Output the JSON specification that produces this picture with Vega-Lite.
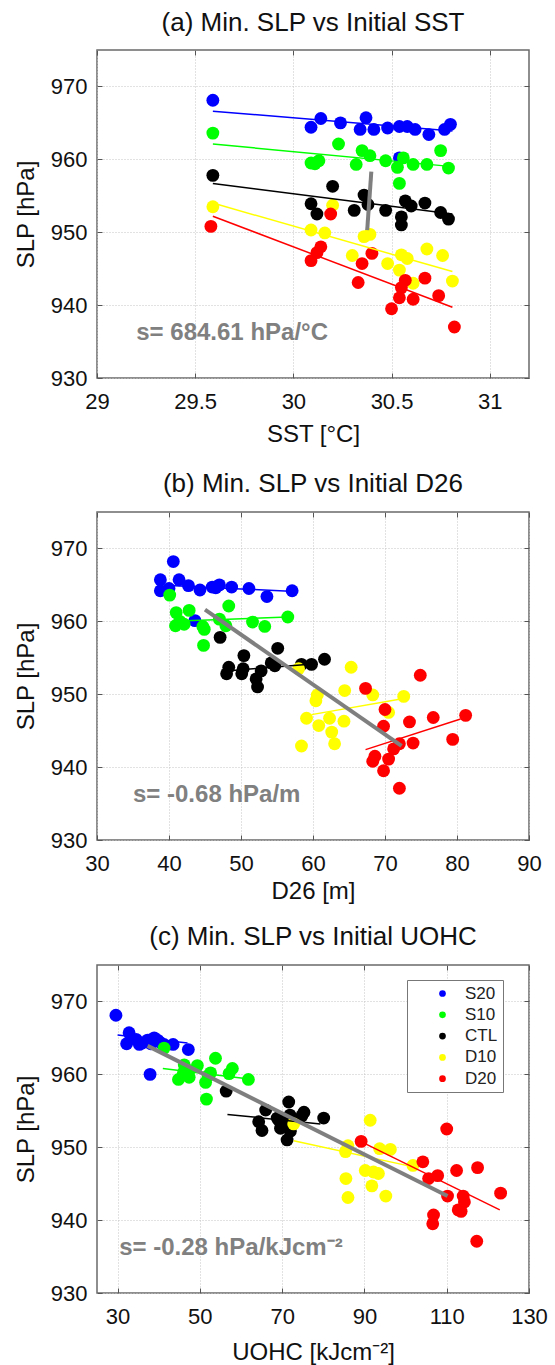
{
  "$schema": "https://vega.github.io/schema/vega-lite/v6.json",
  "background": "white",
  "padding": {"left": 14, "top": 9, "right": 6, "bottom": 0},
  "spacing": 18,
  "datasets": {
    "a_pts": [
      {"sst": 29.59, "slp": 968.1, "exp": "S20"}, {"sst": 30.09, "slp": 964.4, "exp": "S20"}, {"sst": 30.14, "slp": 965.6, "exp": "S20"},
      {"sst": 30.24, "slp": 965.0, "exp": "S20"}, {"sst": 30.37, "slp": 965.7, "exp": "S20"}, {"sst": 30.34, "slp": 964.1, "exp": "S20"},
      {"sst": 30.41, "slp": 964.1, "exp": "S20"}, {"sst": 30.48, "slp": 964.3, "exp": "S20"}, {"sst": 30.54, "slp": 964.5, "exp": "S20"},
      {"sst": 30.58, "slp": 964.5, "exp": "S20"}, {"sst": 30.62, "slp": 964.1, "exp": "S20"}, {"sst": 30.69, "slp": 963.4, "exp": "S20"},
      {"sst": 30.77, "slp": 964.1, "exp": "S20"}, {"sst": 30.80, "slp": 964.8, "exp": "S20"}, {"sst": 30.54, "slp": 960.2, "exp": "S20"},
      {"sst": 29.59, "slp": 963.6, "exp": "S10"}, {"sst": 30.23, "slp": 962.1, "exp": "S10"}, {"sst": 30.09, "slp": 959.5, "exp": "S10"},
      {"sst": 30.13, "slp": 959.8, "exp": "S10"}, {"sst": 30.11, "slp": 959.4, "exp": "S10"}, {"sst": 30.32, "slp": 959.3, "exp": "S10"},
      {"sst": 30.35, "slp": 961.2, "exp": "S10"}, {"sst": 30.39, "slp": 960.5, "exp": "S10"}, {"sst": 30.47, "slp": 959.8, "exp": "S10"},
      {"sst": 30.53, "slp": 958.9, "exp": "S10"}, {"sst": 30.56, "slp": 960.2, "exp": "S10"}, {"sst": 30.61, "slp": 959.3, "exp": "S10"},
      {"sst": 30.68, "slp": 959.3, "exp": "S10"}, {"sst": 30.75, "slp": 961.2, "exp": "S10"}, {"sst": 30.79, "slp": 958.8, "exp": "S10"},
      {"sst": 30.54, "slp": 956.7, "exp": "S10"},
      {"sst": 29.59, "slp": 957.8, "exp": "CTL"}, {"sst": 30.20, "slp": 956.3, "exp": "CTL"}, {"sst": 30.09, "slp": 953.9, "exp": "CTL"},
      {"sst": 30.12, "slp": 952.5, "exp": "CTL"}, {"sst": 30.31, "slp": 953.0, "exp": "CTL"}, {"sst": 30.36, "slp": 955.1, "exp": "CTL"},
      {"sst": 30.47, "slp": 953.0, "exp": "CTL"}, {"sst": 30.55, "slp": 952.1, "exp": "CTL"}, {"sst": 30.55, "slp": 951.0, "exp": "CTL"},
      {"sst": 30.57, "slp": 954.3, "exp": "CTL"}, {"sst": 30.60, "slp": 953.6, "exp": "CTL"}, {"sst": 30.67, "slp": 954.0, "exp": "CTL"},
      {"sst": 30.75, "slp": 952.7, "exp": "CTL"}, {"sst": 30.79, "slp": 951.8, "exp": "CTL"}, {"sst": 30.38, "slp": 953.8, "exp": "CTL"},
      {"sst": 29.59, "slp": 953.5, "exp": "D10"}, {"sst": 30.20, "slp": 953.7, "exp": "D10"}, {"sst": 30.09, "slp": 950.3, "exp": "D10"},
      {"sst": 30.16, "slp": 949.9, "exp": "D10"}, {"sst": 30.30, "slp": 946.8, "exp": "D10"}, {"sst": 30.36, "slp": 949.4, "exp": "D10"},
      {"sst": 30.39, "slp": 949.7, "exp": "D10"}, {"sst": 30.48, "slp": 945.7, "exp": "D10"}, {"sst": 30.55, "slp": 946.9, "exp": "D10"},
      {"sst": 30.58, "slp": 946.4, "exp": "D10"}, {"sst": 30.54, "slp": 944.8, "exp": "D10"}, {"sst": 30.61, "slp": 943.0, "exp": "D10"},
      {"sst": 30.68, "slp": 947.7, "exp": "D10"}, {"sst": 30.76, "slp": 946.8, "exp": "D10"}, {"sst": 30.81, "slp": 943.3, "exp": "D10"},
      {"sst": 29.58, "slp": 950.8, "exp": "D20"}, {"sst": 30.19, "slp": 952.5, "exp": "D20"}, {"sst": 30.09, "slp": 946.1, "exp": "D20"},
      {"sst": 30.12, "slp": 947.2, "exp": "D20"}, {"sst": 30.14, "slp": 948.0, "exp": "D20"}, {"sst": 30.33, "slp": 943.1, "exp": "D20"},
      {"sst": 30.35, "slp": 945.7, "exp": "D20"}, {"sst": 30.40, "slp": 947.1, "exp": "D20"}, {"sst": 30.50, "slp": 939.5, "exp": "D20"},
      {"sst": 30.54, "slp": 941.0, "exp": "D20"}, {"sst": 30.55, "slp": 942.4, "exp": "D20"}, {"sst": 30.57, "slp": 943.4, "exp": "D20"},
      {"sst": 30.61, "slp": 940.8, "exp": "D20"}, {"sst": 30.67, "slp": 943.7, "exp": "D20"}, {"sst": 30.74, "slp": 941.3, "exp": "D20"},
      {"sst": 30.82, "slp": 937.0, "exp": "D20"}
    ],
    "a_fit": [
      {"sst": 29.59, "slp": 966.6, "exp": "S20"}, {"sst": 30.81, "slp": 963.9, "exp": "S20"},
      {"sst": 29.59, "slp": 962.1, "exp": "S10"}, {"sst": 30.81, "slp": 959.0, "exp": "S10"},
      {"sst": 29.59, "slp": 956.7, "exp": "CTL"}, {"sst": 30.81, "slp": 952.5, "exp": "CTL"},
      {"sst": 29.59, "slp": 954.0, "exp": "D10"}, {"sst": 30.81, "slp": 944.6, "exp": "D10"},
      {"sst": 29.59, "slp": 952.2, "exp": "D20"}, {"sst": 30.81, "slp": 939.7, "exp": "D20"}
    ],
    "a_all": [{"sst": 30.376, "slp": 950.3}, {"sst": 30.397, "slp": 958.3}],
    "a_note": [{"sst": 29.2, "slp": 936.2, "label": "s= 684.61 hPa/°C"}],
    "b_pts": [
      {"d26": 40.6, "slp": 968.2, "exp": "S20"}, {"d26": 38.8, "slp": 965.7, "exp": "S20"}, {"d26": 38.8, "slp": 964.2, "exp": "S20"},
      {"d26": 41.4, "slp": 965.7, "exp": "S20"}, {"d26": 42.7, "slp": 964.9, "exp": "S20"}, {"d26": 44.3, "slp": 964.3, "exp": "S20"},
      {"d26": 46.0, "slp": 964.7, "exp": "S20"}, {"d26": 47.0, "slp": 965.0, "exp": "S20"}, {"d26": 48.7, "slp": 964.7, "exp": "S20"},
      {"d26": 51.1, "slp": 964.5, "exp": "S20"}, {"d26": 53.6, "slp": 963.4, "exp": "S20"}, {"d26": 57.1, "slp": 964.2, "exp": "S20"},
      {"d26": 43.6, "slp": 960.1, "exp": "S20"}, {"d26": 46.5, "slp": 964.6, "exp": "S20"}, {"d26": 40.0, "slp": 964.5, "exp": "S20"},
      {"d26": 40.1, "slp": 963.6, "exp": "S10"}, {"d26": 41.0, "slp": 961.2, "exp": "S10"}, {"d26": 42.8, "slp": 961.5, "exp": "S10"},
      {"d26": 40.9, "slp": 959.4, "exp": "S10"}, {"d26": 42.1, "slp": 959.6, "exp": "S10"}, {"d26": 44.7, "slp": 959.3, "exp": "S10"},
      {"d26": 44.9, "slp": 958.9, "exp": "S10"}, {"d26": 44.8, "slp": 956.7, "exp": "S10"}, {"d26": 48.3, "slp": 962.1, "exp": "S10"},
      {"d26": 47.0, "slp": 960.3, "exp": "S10"}, {"d26": 47.9, "slp": 959.4, "exp": "S10"}, {"d26": 51.6, "slp": 959.9, "exp": "S10"},
      {"d26": 53.3, "slp": 959.3, "exp": "S10"}, {"d26": 56.5, "slp": 960.6, "exp": "S10"}, {"d26": 41.5, "slp": 960.0, "exp": "S10"},
      {"d26": 47.1, "slp": 957.8, "exp": "CTL"}, {"d26": 50.4, "slp": 955.3, "exp": "CTL"}, {"d26": 55.1, "slp": 956.3, "exp": "CTL"},
      {"d26": 48.3, "slp": 953.7, "exp": "CTL"}, {"d26": 48.0, "slp": 952.8, "exp": "CTL"}, {"d26": 50.1, "slp": 952.8, "exp": "CTL"},
      {"d26": 50.3, "slp": 953.5, "exp": "CTL"}, {"d26": 52.1, "slp": 952.1, "exp": "CTL"}, {"d26": 52.3, "slp": 951.0, "exp": "CTL"},
      {"d26": 52.8, "slp": 953.2, "exp": "CTL"}, {"d26": 54.2, "slp": 954.3, "exp": "CTL"}, {"d26": 54.7, "slp": 953.9, "exp": "CTL"},
      {"d26": 58.4, "slp": 954.1, "exp": "CTL"}, {"d26": 59.8, "slp": 954.1, "exp": "CTL"}, {"d26": 61.6, "slp": 954.8, "exp": "CTL"},
      {"d26": 58.0, "slp": 953.5, "exp": "D10"}, {"d26": 65.3, "slp": 953.7, "exp": "D10"}, {"d26": 60.6, "slp": 949.9, "exp": "D10"},
      {"d26": 60.4, "slp": 949.1, "exp": "D10"}, {"d26": 64.4, "slp": 950.5, "exp": "D10"}, {"d26": 68.3, "slp": 949.9, "exp": "D10"},
      {"d26": 72.6, "slp": 949.7, "exp": "D10"}, {"d26": 59.1, "slp": 946.7, "exp": "D10"}, {"d26": 62.3, "slp": 946.7, "exp": "D10"},
      {"d26": 64.3, "slp": 946.3, "exp": "D10"}, {"d26": 60.8, "slp": 945.7, "exp": "D10"}, {"d26": 62.6, "slp": 944.8, "exp": "D10"},
      {"d26": 63.0, "slp": 943.2, "exp": "D10"}, {"d26": 58.4, "slp": 942.9, "exp": "D10"}, {"d26": 70.5, "slp": 947.5, "exp": "D10"},
      {"d26": 67.3, "slp": 950.8, "exp": "D20"}, {"d26": 74.9, "slp": 952.6, "exp": "D20"}, {"d26": 70.0, "slp": 947.9, "exp": "D20"},
      {"d26": 69.8, "slp": 945.6, "exp": "D20"}, {"d26": 73.4, "slp": 946.2, "exp": "D20"}, {"d26": 76.7, "slp": 946.8, "exp": "D20"},
      {"d26": 81.2, "slp": 947.1, "exp": "D20"}, {"d26": 73.9, "slp": 943.3, "exp": "D20"}, {"d26": 79.4, "slp": 943.8, "exp": "D20"},
      {"d26": 72.0, "slp": 943.2, "exp": "D20"}, {"d26": 71.2, "slp": 942.5, "exp": "D20"}, {"d26": 68.6, "slp": 941.5, "exp": "D20"},
      {"d26": 68.3, "slp": 940.8, "exp": "D20"}, {"d26": 70.5, "slp": 941.1, "exp": "D20"}, {"d26": 69.8, "slp": 939.5, "exp": "D20"},
      {"d26": 72.0, "slp": 937.1, "exp": "D20"}
    ],
    "b_fit": [
      {"d26": 40.1, "slp": 964.9, "exp": "S20"}, {"d26": 57.5, "slp": 964.1, "exp": "S20"},
      {"d26": 40.5, "slp": 960.0, "exp": "S10"}, {"d26": 56.5, "slp": 960.6, "exp": "S10"},
      {"d26": 48.0, "slp": 953.2, "exp": "CTL"}, {"d26": 59.5, "slp": 954.1, "exp": "CTL"},
      {"d26": 59.8, "slp": 947.2, "exp": "D10"}, {"d26": 72.6, "slp": 949.4, "exp": "D10"},
      {"d26": 67.3, "slp": 942.4, "exp": "D20"}, {"d26": 80.5, "slp": 946.6, "exp": "D20"}
    ],
    "b_all": [{"d26": 45.0, "slp": 961.6}, {"d26": 72.3, "slp": 942.9}],
    "b_note": [{"d26": 35.0, "slp": 936.2, "label": "s= -0.68 hPa/m"}],
    "c_pts": [
      {"uohc": 29.6, "slp": 968.1, "exp": "S20"}, {"uohc": 32.8, "slp": 965.7, "exp": "S20"}, {"uohc": 32.2, "slp": 964.2, "exp": "S20"},
      {"uohc": 35.3, "slp": 964.1, "exp": "S20"}, {"uohc": 37.3, "slp": 964.7, "exp": "S20"}, {"uohc": 38.9, "slp": 965.0, "exp": "S20"},
      {"uohc": 38.1, "slp": 964.2, "exp": "S20"}, {"uohc": 40.3, "slp": 964.4, "exp": "S20"}, {"uohc": 41.3, "slp": 964.1, "exp": "S20"},
      {"uohc": 47.2, "slp": 963.4, "exp": "S20"}, {"uohc": 37.9, "slp": 960.0, "exp": "S20"}, {"uohc": 39.7, "slp": 964.7, "exp": "S20"},
      {"uohc": 34.5, "slp": 964.8, "exp": "S20"}, {"uohc": 43.5, "slp": 964.1, "exp": "S20"}, {"uohc": 36.0, "slp": 964.3, "exp": "S20"},
      {"uohc": 41.3, "slp": 963.6, "exp": "S10"}, {"uohc": 46.2, "slp": 961.3, "exp": "S10"}, {"uohc": 49.4, "slp": 961.2, "exp": "S10"},
      {"uohc": 53.8, "slp": 962.2, "exp": "S10"}, {"uohc": 52.6, "slp": 960.2, "exp": "S10"}, {"uohc": 57.9, "slp": 960.8, "exp": "S10"},
      {"uohc": 57.1, "slp": 960.1, "exp": "S10"}, {"uohc": 44.8, "slp": 959.3, "exp": "S10"}, {"uohc": 47.4, "slp": 959.6, "exp": "S10"},
      {"uohc": 51.4, "slp": 958.9, "exp": "S10"}, {"uohc": 61.8, "slp": 959.3, "exp": "S10"}, {"uohc": 51.6, "slp": 956.6, "exp": "S10"},
      {"uohc": 47.4, "slp": 960.5, "exp": "S10"}, {"uohc": 52.0, "slp": 959.8, "exp": "S10"}, {"uohc": 46.0, "slp": 960.2, "exp": "S10"},
      {"uohc": 56.4, "slp": 957.7, "exp": "CTL"}, {"uohc": 71.6, "slp": 956.2, "exp": "CTL"}, {"uohc": 66.0, "slp": 955.1, "exp": "CTL"},
      {"uohc": 75.3, "slp": 954.8, "exp": "CTL"}, {"uohc": 80.1, "slp": 954.0, "exp": "CTL"}, {"uohc": 64.3, "slp": 953.5, "exp": "CTL"},
      {"uohc": 65.1, "slp": 952.3, "exp": "CTL"}, {"uohc": 69.2, "slp": 953.7, "exp": "CTL"}, {"uohc": 69.6, "slp": 952.6, "exp": "CTL"},
      {"uohc": 71.2, "slp": 951.0, "exp": "CTL"}, {"uohc": 71.9, "slp": 954.4, "exp": "CTL"}, {"uohc": 72.0, "slp": 952.2, "exp": "CTL"},
      {"uohc": 70.5, "slp": 953.2, "exp": "CTL"}, {"uohc": 68.8, "slp": 954.0, "exp": "CTL"}, {"uohc": 74.8, "slp": 954.3, "exp": "CTL"},
      {"uohc": 72.8, "slp": 953.2, "exp": "D10"}, {"uohc": 91.4, "slp": 953.7, "exp": "D10"}, {"uohc": 85.4, "slp": 949.4, "exp": "D10"},
      {"uohc": 93.7, "slp": 949.8, "exp": "D10"}, {"uohc": 96.3, "slp": 949.7, "exp": "D10"}, {"uohc": 101.8, "slp": 947.5, "exp": "D10"},
      {"uohc": 90.2, "slp": 946.8, "exp": "D10"}, {"uohc": 92.2, "slp": 946.6, "exp": "D10"}, {"uohc": 93.4, "slp": 946.4, "exp": "D10"},
      {"uohc": 85.5, "slp": 945.7, "exp": "D10"}, {"uohc": 91.8, "slp": 944.7, "exp": "D10"}, {"uohc": 95.2, "slp": 943.3, "exp": "D10"},
      {"uohc": 86.0, "slp": 943.1, "exp": "D10"}, {"uohc": 86.0, "slp": 950.2, "exp": "D10"},
      {"uohc": 89.2, "slp": 950.8, "exp": "D20"}, {"uohc": 110.0, "slp": 952.5, "exp": "D20"}, {"uohc": 104.2, "slp": 948.0, "exp": "D20"},
      {"uohc": 105.6, "slp": 945.7, "exp": "D20"}, {"uohc": 107.8, "slp": 946.1, "exp": "D20"}, {"uohc": 112.4, "slp": 946.8, "exp": "D20"},
      {"uohc": 117.5, "slp": 947.2, "exp": "D20"}, {"uohc": 123.1, "slp": 943.7, "exp": "D20"}, {"uohc": 110.2, "slp": 943.3, "exp": "D20"},
      {"uohc": 114.0, "slp": 943.3, "exp": "D20"}, {"uohc": 114.3, "slp": 942.5, "exp": "D20"}, {"uohc": 112.8, "slp": 941.4, "exp": "D20"},
      {"uohc": 106.8, "slp": 940.7, "exp": "D20"}, {"uohc": 106.6, "slp": 939.5, "exp": "D20"}, {"uohc": 117.3, "slp": 937.1, "exp": "D20"},
      {"uohc": 113.5, "slp": 941.2, "exp": "D20"}
    ],
    "c_fit": [
      {"uohc": 30.0, "slp": 965.4, "exp": "S20"}, {"uohc": 47.0, "slp": 964.3, "exp": "S20"},
      {"uohc": 41.0, "slp": 960.8, "exp": "S10"}, {"uohc": 61.5, "slp": 959.4, "exp": "S10"},
      {"uohc": 56.7, "slp": 954.5, "exp": "CTL"}, {"uohc": 79.3, "slp": 953.2, "exp": "CTL"},
      {"uohc": 72.8, "slp": 950.9, "exp": "D10"}, {"uohc": 102.7, "slp": 947.2, "exp": "D10"},
      {"uohc": 89.4, "slp": 950.7, "exp": "D20"}, {"uohc": 122.9, "slp": 941.4, "exp": "D20"}
    ],
    "c_all": [{"uohc": 37.3, "slp": 963.9}, {"uohc": 110.2, "slp": 943.3}],
    "c_note": [{"uohc": 30.4, "slp": 936.2, "label": "s= -0.28 hPa/kJcm⁻²"}]
  },
  "resolve": {"scale": {"fill": "independent", "stroke": "independent"}, "legend": {"fill": "independent", "stroke": "independent"}},
  "vconcat": [
    {
      "width": 432, "height": 328,
      "title": {"text": "(a) Min. SLP vs Initial SST", "offset": 13.5},
      "resolve": {"axis": {"x": "independent", "y": "independent"}},
      "layer": [
        {
          "data": {"name": "a_pts"},
          "mark": {"type": "circle", "size": 165, "opacity": 1},
          "encoding": {
            "x": {"field": "sst", "type": "quantitative", "scale": {"domain": [29, 31.2], "nice": false, "zero": false},
                  "axis": {"values": [29, 29.5, 30, 30.5, 31], "format": "~g", "title": ["SST [°C]", ""], "titleLineHeight": 5, "titlePadding": 10.2}},
            "y": {"field": "slp", "type": "quantitative", "scale": {"domain": [930, 975], "nice": false, "zero": false},
                  "axis": {"values": [930, 940, 950, 960, 970], "title": "SLP [hPa]"}},
            "fill": {"field": "exp", "type": "nominal", "sort": null,
                     "scale": {"domain": ["S20", "S10", "CTL", "D10", "D20"], "range": ["#0000ff", "#00ff00", "#000000", "#ffff00", "#ff0000"]},
                     "legend": null}
          }
        },
        {
          "data": {"name": "a_fit"},
          "mark": {"type": "line", "strokeWidth": 1.5},
          "encoding": {
            "x": {"field": "sst", "type": "quantitative", "axis": null},
            "y": {"field": "slp", "type": "quantitative", "axis": null},
            "stroke": {"field": "exp", "type": "nominal",
                       "scale": {"domain": ["S20", "S10", "CTL", "D10", "D20"], "range": ["#0000ff", "#00ff00", "#000000", "#ffff00", "#ff0000"]},
                       "legend": null}
          }
        },
        {
          "data": {"name": "a_all"},
          "mark": {"type": "line", "strokeWidth": 4, "color": "#7f7f7f"},
          "encoding": {"x": {"field": "sst", "type": "quantitative", "axis": null}, "y": {"field": "slp", "type": "quantitative", "axis": null}}
        },
        {
          "data": {"name": "a_note"},
          "mark": {"type": "text", "align": "left", "baseline": "middle", "fontSize": 24, "fontWeight": "bold", "color": "#808080", "font": "Liberation Sans"},
          "encoding": {
            "x": {"field": "sst", "type": "quantitative", "axis": {"orient": "top", "values": [29, 29.5, 30, 30.5, 31], "labels": false, "title": null, "grid": false}},
            "y": {"field": "slp", "type": "quantitative", "axis": {"orient": "right", "values": [930, 940, 950, 960, 970], "labels": false, "title": null, "grid": false}},
            "text": {"field": "label"}
          }
        }
      ]
    },
    {
      "width": 432, "height": 328,
      "title": {"text": "(b) Min. SLP vs Initial D26"},
      "resolve": {"axis": {"x": "independent", "y": "independent"}},
      "layer": [
        {
          "data": {"name": "b_pts"},
          "mark": {"type": "circle", "size": 165, "opacity": 1},
          "encoding": {
            "x": {"field": "d26", "type": "quantitative", "scale": {"domain": [30, 90], "nice": false, "zero": false},
                  "axis": {"values": [30, 40, 50, 60, 70, 80, 90], "title": "D26 [m]", "titlePadding": 5.5}},
            "y": {"field": "slp", "type": "quantitative", "scale": {"domain": [930, 975], "nice": false, "zero": false},
                  "axis": {"values": [930, 940, 950, 960, 970], "title": "SLP [hPa]"}},
            "fill": {"field": "exp", "type": "nominal", "sort": null,
                     "scale": {"domain": ["S20", "S10", "CTL", "D10", "D20"], "range": ["#0000ff", "#00ff00", "#000000", "#ffff00", "#ff0000"]},
                     "legend": null}
          }
        },
        {
          "data": {"name": "b_fit"},
          "mark": {"type": "line", "strokeWidth": 1.5},
          "encoding": {
            "x": {"field": "d26", "type": "quantitative", "axis": null},
            "y": {"field": "slp", "type": "quantitative", "axis": null},
            "stroke": {"field": "exp", "type": "nominal",
                       "scale": {"domain": ["S20", "S10", "CTL", "D10", "D20"], "range": ["#0000ff", "#00ff00", "#000000", "#ffff00", "#ff0000"]},
                       "legend": null}
          }
        },
        {
          "data": {"name": "b_all"},
          "mark": {"type": "line", "strokeWidth": 4, "color": "#7f7f7f"},
          "encoding": {"x": {"field": "d26", "type": "quantitative", "axis": null}, "y": {"field": "slp", "type": "quantitative", "axis": null}}
        },
        {
          "data": {"name": "b_note"},
          "mark": {"type": "text", "align": "left", "baseline": "middle", "fontSize": 24, "fontWeight": "bold", "color": "#808080", "font": "Liberation Sans"},
          "encoding": {
            "x": {"field": "d26", "type": "quantitative", "axis": {"orient": "top", "values": [30, 40, 50, 60, 70, 80, 90], "labels": false, "title": null, "grid": false}},
            "y": {"field": "slp", "type": "quantitative", "axis": {"orient": "right", "values": [930, 940, 950, 960, 970], "labels": false, "title": null, "grid": false}},
            "text": {"field": "label"}
          }
        }
      ]
    },
    {
      "width": 432, "height": 328,
      "title": {"text": "(c) Min. SLP vs Initial UOHC"},
      "resolve": {"axis": {"x": "independent", "y": "independent"}},
      "layer": [
        {
          "data": {"name": "c_pts"},
          "mark": {"type": "circle", "size": 165, "opacity": 1},
          "encoding": {
            "x": {"field": "uohc", "type": "quantitative", "scale": {"domain": [25, 130], "nice": false, "zero": false},
                  "axis": {"values": [30, 50, 70, 90, 110, 130], "title": "UOHC [kJcm⁻²]", "titlePadding": 13.5}},
            "y": {"field": "slp", "type": "quantitative", "scale": {"domain": [930, 975], "nice": false, "zero": false},
                  "axis": {"values": [930, 940, 950, 960, 970], "title": "SLP [hPa]"}},
            "fill": {"field": "exp", "type": "nominal", "sort": null,
                     "scale": {"domain": ["S20", "S10", "CTL", "D10", "D20"], "range": ["#0000ff", "#00ff00", "#000000", "#ffff00", "#ff0000"]},
                     "legend": {"title": null, "orient": "none", "legendX": 310, "legendY": 15, "symbolType": "circle", "symbolSize": 45,
                                "symbolStrokeWidth": 0, "labelFontSize": 17, "labelFont": "Liberation Sans", "labelColor": "#222222",
                                "rowPadding": 3.3, "padding": 5, "symbolOffset": 22, "labelOffset": 14,
                                "strokeColor": "#777777", "fillColor": "white"}}
          }
        },
        {
          "data": {"name": "c_fit"},
          "mark": {"type": "line", "strokeWidth": 1.5},
          "encoding": {
            "x": {"field": "uohc", "type": "quantitative", "axis": null},
            "y": {"field": "slp", "type": "quantitative", "axis": null},
            "stroke": {"field": "exp", "type": "nominal",
                       "scale": {"domain": ["S20", "S10", "CTL", "D10", "D20"], "range": ["#0000ff", "#00ff00", "#000000", "#ffff00", "#ff0000"]},
                       "legend": null}
          }
        },
        {
          "data": {"name": "c_all"},
          "mark": {"type": "line", "strokeWidth": 4, "color": "#7f7f7f"},
          "encoding": {"x": {"field": "uohc", "type": "quantitative", "axis": null}, "y": {"field": "slp", "type": "quantitative", "axis": null}}
        },
        {
          "data": {"name": "c_note"},
          "mark": {"type": "text", "align": "left", "baseline": "middle", "fontSize": 24, "fontWeight": "bold", "color": "#808080", "font": "Liberation Sans"},
          "encoding": {
            "x": {"field": "uohc", "type": "quantitative", "axis": {"orient": "top", "values": [30, 50, 70, 90, 110, 130], "labels": false, "title": null, "grid": false}},
            "y": {"field": "slp", "type": "quantitative", "axis": {"orient": "right", "values": [930, 940, 950, 960, 970], "labels": false, "title": null, "grid": false}},
            "text": {"field": "label"}
          }
        }
      ]
    }
  ],
  "config": {
    "font": "Liberation Sans",
    "view": {"stroke": "#6a6a6a", "strokeWidth": 1.5},
    "axis": {
      "labelFont": "Liberation Sans", "labelFontSize": 22, "labelColor": "#111111", "labelFlush": false, "labelOverlap": false,
      "titleFont": "Liberation Sans", "titleFontSize": 24, "titleFontWeight": "normal", "titleColor": "#111111",
      "grid": true, "gridColor": "#c4c4c4", "gridDash": [1, 2], "gridWidth": 1,
      "domain": false, "ticks": true, "tickColor": "#555555", "tickSize": -5, "tickWidth": 1,
      "labelPadding": 18, "titlePadding": 10
    },
    "axisY": {"labelPadding": 15, "titlePadding": 11.3},
    "title": {"font": "Liberation Sans", "fontSize": 26, "fontWeight": "normal", "color": "#111111", "offset": 14.5}
  }
}
